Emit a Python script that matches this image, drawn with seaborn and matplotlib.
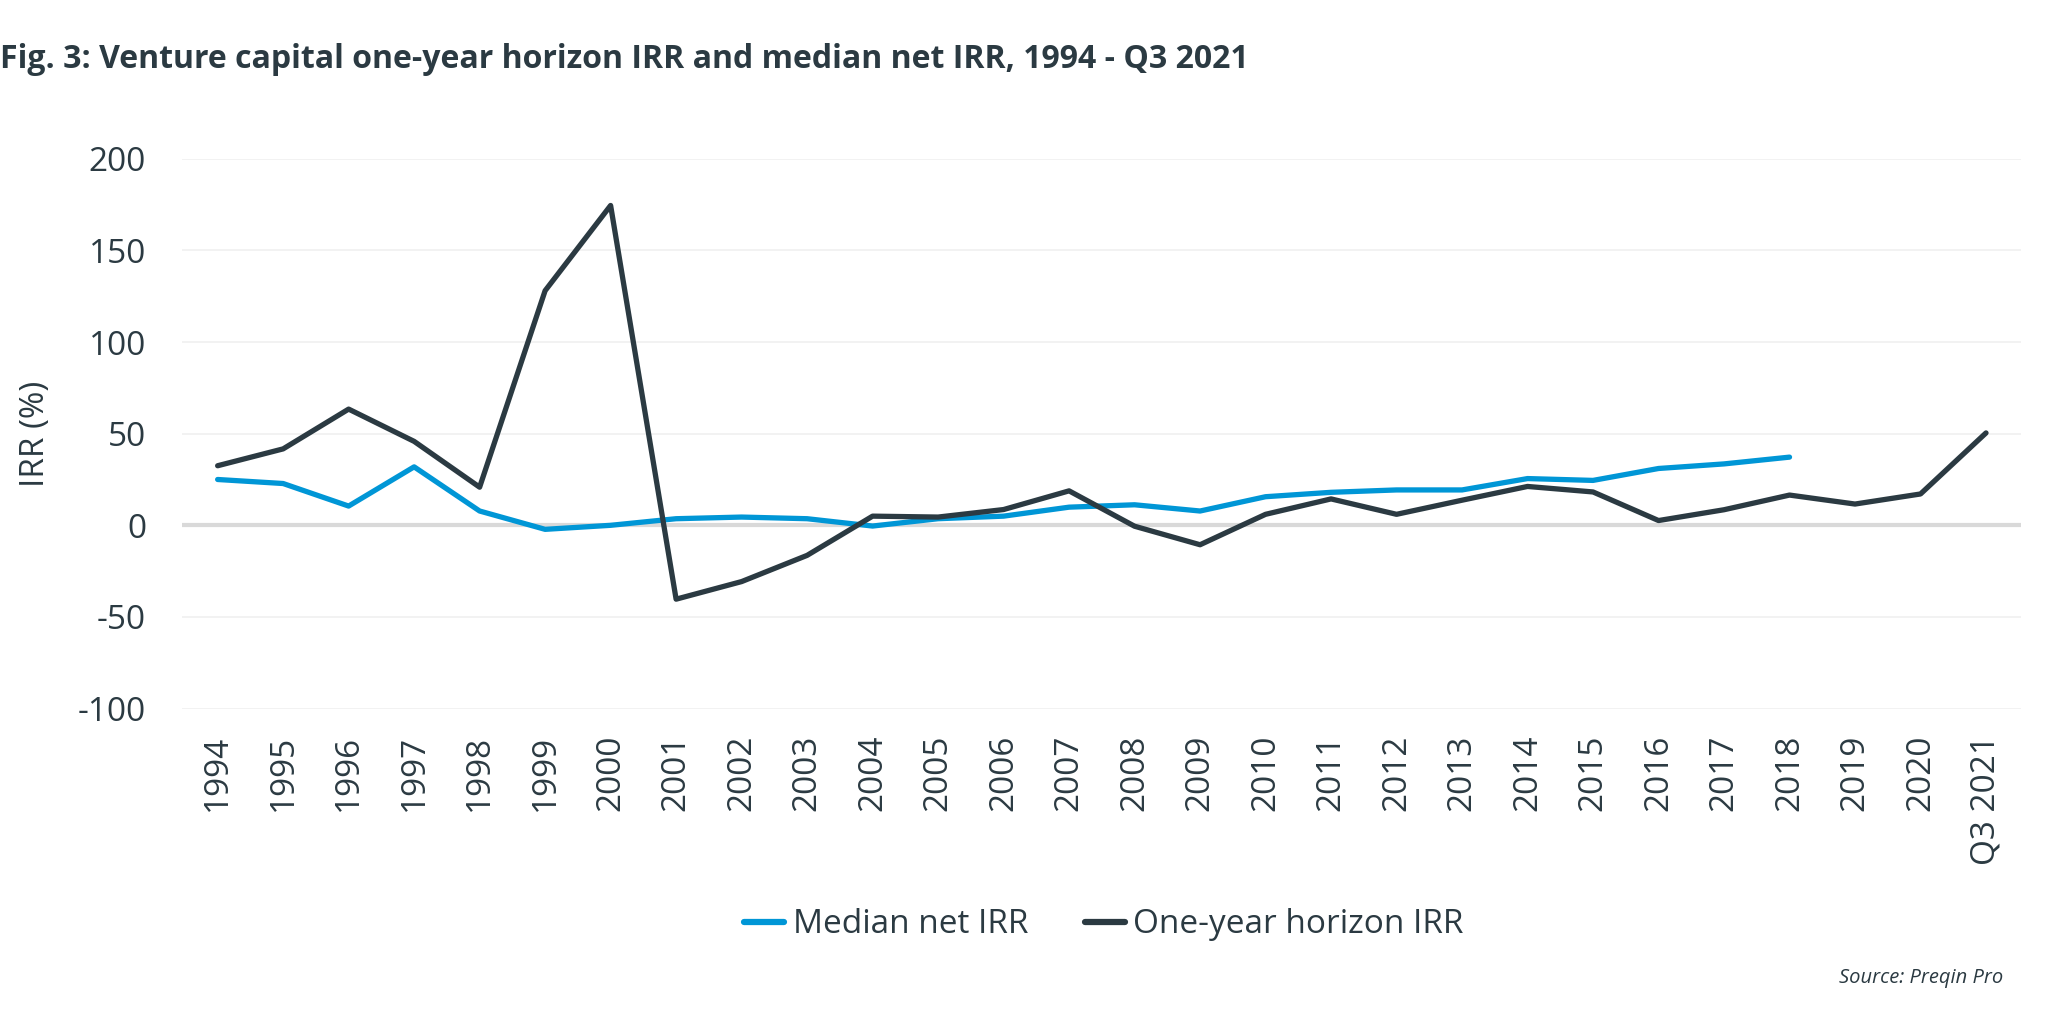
import numpy as np
import pandas as pd
import seaborn as sns
import matplotlib.pyplot as plt

# Data
years = ['1994', '1995', '1996', '1997', '1998', '1999', '2000', '2001', '2002',
         '2003', '2004', '2005', '2006', '2007', '2008', '2009', '2010', '2011',
         '2012', '2013', '2014', '2015', '2016', '2017', '2018', '2019', '2020',
         'Q3 2021']
median_net_irr = [25.0, 22.8, 10.5, 31.9, 7.8, -2.2, 0.0, 3.6, 4.5, 3.6, -0.4,
                  3.6, 5.0, 9.9, 11.2, 7.8, 15.6, 18.0, 19.3, 19.3, 25.5, 24.5,
                  31.0, 33.5, 37.2, np.nan, np.nan, np.nan]
one_year_irr = [32.5, 41.7, 63.4, 45.8, 20.8, 128.0, 174.5, -40.3, -30.7, -16.4,
                5.0, 4.5, 8.6, 18.8, -0.5, -10.6, 6.0, 14.4, 6.0, 13.7, 21.2,
                18.2, 2.6, 8.5, 16.5, 11.6, 17.1, 50.4]

series_names = ['Median net IRR', 'One-year horizon IRR']
colors = ['#0096D6', '#2B3A42']

df = pd.DataFrame({
    'pos': list(range(len(years))) * 2,
    'irr': median_net_irr + one_year_irr,
    'series': [series_names[0]] * len(years) + [series_names[1]] * len(years),
})

sns.set_theme(style='white')
plt.rcParams['font.family'] = ['Open Sans', 'DejaVu Sans']
plt.rcParams['axes.unicode_minus'] = False
text_col = '#2B3A42'

fig = plt.figure(figsize=(20.48, 10.24), dpi=100)
ax = fig.add_axes([0.089, 0.308, 0.898, 0.537])

# grid and zero line
for v in [-100, -50, 50, 100, 150, 200]:
    ax.axhline(v, color='#F0F0F0', lw=1.2, zorder=0)
ax.axhline(0, color='#D9D9D9', lw=3, zorder=1)

sns.lineplot(data=df, x='pos', y='irr', hue='series', palette=colors,
             linewidth=3.8, ax=ax, legend=False, zorder=3)

ax.set_xlim(-0.54, len(years) - 1 + 0.54)
ax.set_ylim(-100, 200)
ax.set_yticks([-100, -50, 0, 50, 100, 150, 200])
ax.set_xticks(range(len(years)))
ax.set_xticklabels(years, rotation=90)
ax.tick_params(axis='both', labelsize=24, colors=text_col, length=0)
ax.tick_params(axis='y', pad=26)
ax.tick_params(axis='x', pad=19)
ax.set_xlabel('')
ax.set_ylabel('IRR (%)', fontsize=24, color=text_col)
ax.yaxis.set_label_coords(-0.071, 0.5)
for s in ax.spines.values():
    s.set_visible(False)

handles = [plt.Line2D([], [], color=c, lw=4.5) for c in colors]
fig.legend(handles, series_names, loc='center', bbox_to_anchor=(0.539, 0.097),
           ncol=2, frameon=False, fontsize=24, handlelength=1.2,
           handletextpad=0.25, columnspacing=1.7, labelcolor=text_col)

fig.text(0.0, 0.942, 'Fig. 3: Venture capital one-year horizon IRR and median net IRR, 1994 - Q3 2021',
         fontsize=23, fontweight='bold', color=text_col, va='center', ha='left')
fig.text(0.978, 0.045, 'Source: Preqin Pro', fontsize=14.5, style='italic',
         color=text_col, ha='right', va='center')

fig.savefig('out.png', dpi=100)
